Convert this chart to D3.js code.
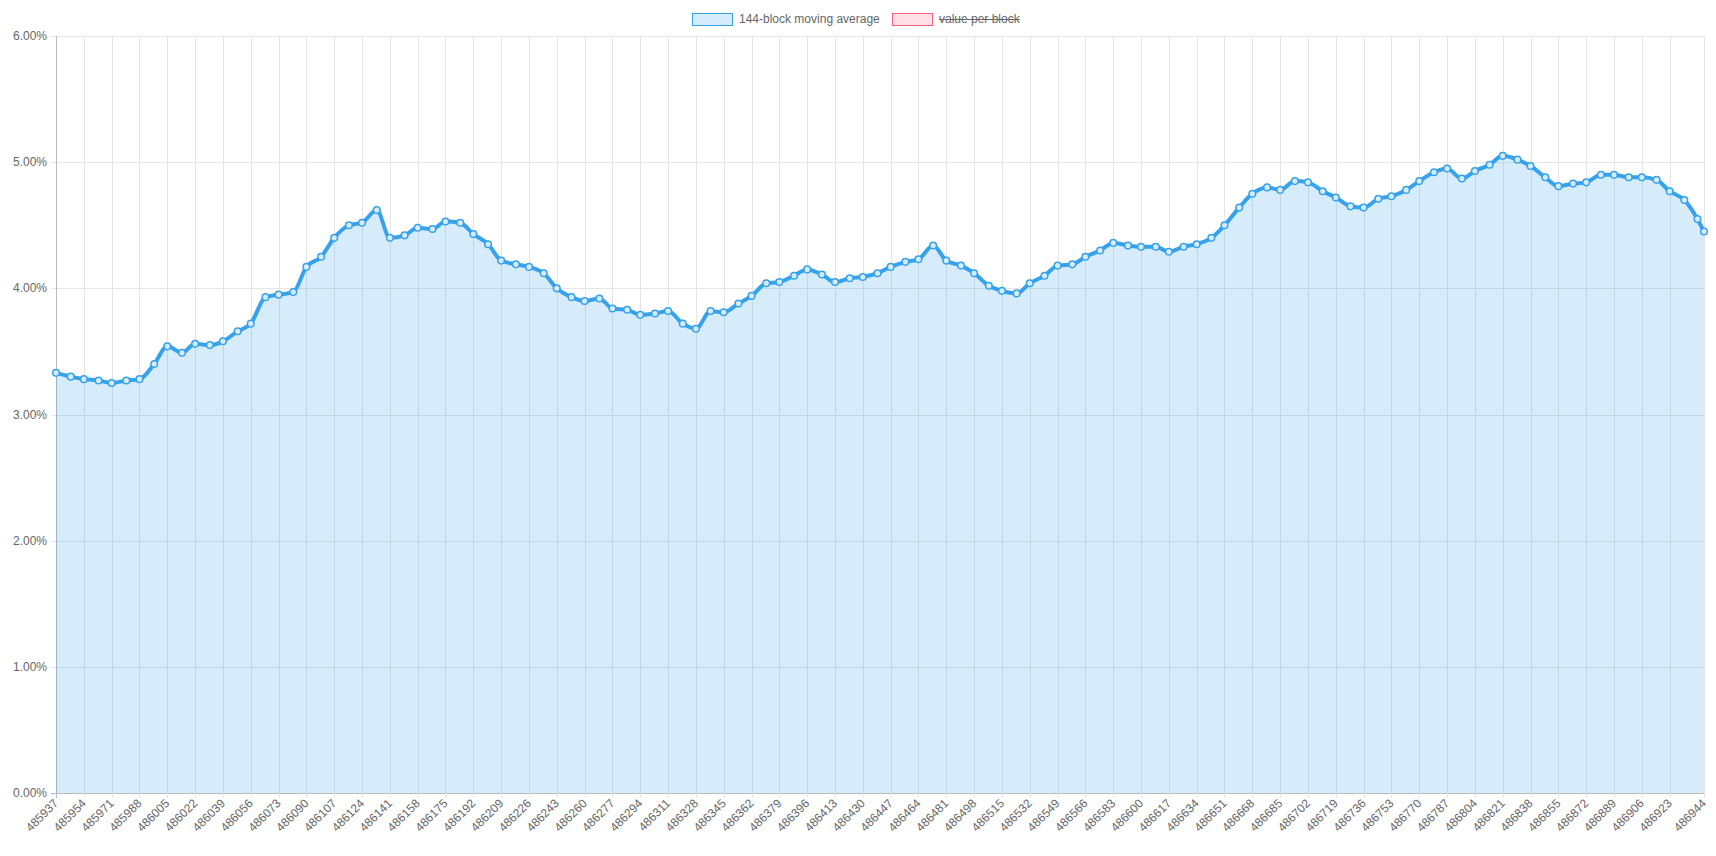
<!DOCTYPE html>
<html><head><meta charset="utf-8">
<script src="https://cdn.jsdelivr.net/npm/d3@7/dist/d3.min.js"></script>
<style>body{margin:0;background:#fff}text{font-family:"Liberation Sans",Arial,sans-serif;fill:#666}</style>
</head><body><svg id="c" width="1716" height="856"></svg>
<script>
var firstBlock = 485937, lastBlock = 486944;
// moving average (%), one value every ~8.5 blocks, last one at final block
var values = [
 3.33,3.30,3.28,3.27,3.25,3.27,3.28,3.40,3.54,3.49,3.56,3.55,3.58,3.66,3.72,3.93,3.95,3.97,4.17,4.25,
 4.40,4.50,4.52,4.62,4.40,4.42,4.48,4.47,4.53,4.52,4.43,4.35,4.22,4.19,4.17,4.12,4.00,3.93,3.90,3.92,
 3.84,3.83,3.79,3.80,3.82,3.72,3.68,3.82,3.81,3.88,3.94,4.04,4.05,4.10,4.15,4.11,4.05,4.08,4.09,4.12,
 4.17,4.21,4.23,4.34,4.22,4.18,4.12,4.02,3.98,3.96,4.04,4.10,4.18,4.19,4.25,4.30,4.36,4.34,4.33,4.33,
 4.29,4.33,4.35,4.40,4.50,4.64,4.75,4.80,4.78,4.85,4.84,4.77,4.72,4.65,4.64,4.71,4.73,4.78,4.85,4.92,
 4.95,4.87,4.93,4.98,5.05,5.02,4.97,4.88,4.81,4.83,4.84,4.90,4.90,4.88,4.88,4.86,4.77,4.70,4.55,4.45];
var yTicks = [0,1,2,3,4,5,6];
var legendItems = ["144-block moving average", "value per block"];

var blocks = d3.range(firstBlock, lastBlock + 1);
var tickBlocks = blocks.filter(function(b,i){ return i % 17 === 0 && i < 1000; }).concat([lastBlock]);
var points = values.map(function(v,i){
  var b = i === values.length - 1 ? lastBlock : firstBlock + Math.round(i * 8.5);
  return {b:b, v:v};
});

var L = 56, R = 1704, T = 36, B = 793;
var svg = d3.select('#c');
var x = d3.scaleLinear().domain([firstBlock, lastBlock]).range([L, R]);
var y = d3.scaleLinear().domain([0, 6]).range([B, T]);

// grid
svg.append('g').selectAll('line').data(yTicks).enter().append('line')
  .attr('x1', L-5).attr('x2', R).attr('y1', function(d){return Math.round(y(d))+0.5;}).attr('y2', function(d){return Math.round(y(d))+0.5;})
  .attr('stroke', function(d){return d===0?'#bbb':'#e5e5e5';});
svg.append('g').selectAll('line').data(tickBlocks).enter().append('line')
  .attr('y1', T).attr('y2', B+5).attr('x1', function(d){return Math.round(x(d))+0.5;}).attr('x2', function(d){return Math.round(x(d))+0.5;})
  .attr('stroke', function(d,i){return i===0?'#bbb':'#e5e5e5';});

svg.append('g').selectAll('text').data(yTicks).enter().append('text')
  .attr('x', L-9).attr('y', function(d){return y(d)+4;}).attr('text-anchor','end').attr('font-size', 12)
  .text(function(d){return d.toFixed(2) + '%';});
svg.append('g').selectAll('text').data(tickBlocks).enter().append('text')
  .attr('transform', function(d){return 'translate(' + (x(d)+3) + ',' + (B+11) + ') rotate(-45)';})
  .attr('text-anchor','end').attr('font-size', 12).text(function(d){return d;});

// area + line
var area = d3.area().x(function(d){return x(d.b);}).y0(B).y1(function(d){return y(d.v);}).curve(d3.curveMonotoneX);
var line = d3.line().x(function(d){return x(d.b);}).y(function(d){return y(d.v);}).curve(d3.curveMonotoneX);
svg.append('path').datum(points).attr('d', area).attr('fill', 'rgba(54,162,235,0.2)');
svg.append('path').datum(points).attr('d', line).attr('fill', 'none').attr('stroke', '#36a2eb').attr('stroke-width', 4);
svg.append('g').selectAll('circle').data(points).enter().append('circle')
  .attr('cx', function(d){return x(d.b);}).attr('cy', function(d){return y(d.v);}).attr('r', 3.3)
  .attr('fill', '#d7ecfb').attr('stroke', '#36a2eb').attr('stroke-width', 1.5);

// legend
var lg = svg.append('g');
lg.append('rect').attr('x', 692.5).attr('y', 13.5).attr('width', 40).attr('height', 12)
  .attr('fill', 'rgba(54,162,235,0.2)').attr('stroke', '#36a2eb');
lg.append('text').attr('x', 739).attr('y', 23).attr('font-size', 12).text(legendItems[0]);
lg.append('rect').attr('x', 892.5).attr('y', 13.5).attr('width', 40).attr('height', 12)
  .attr('fill', 'rgba(255,99,132,0.2)').attr('stroke', '#ff6384');
var t2 = lg.append('text').attr('x', 939).attr('y', 23).attr('font-size', 12).text(legendItems[1]);
var w2 = t2.node().getComputedTextLength();
lg.append('line').attr('x1', 939).attr('x2', 939 + w2).attr('y1', 19.5).attr('y2', 19.5).attr('stroke', '#666');
</script></body></html>
